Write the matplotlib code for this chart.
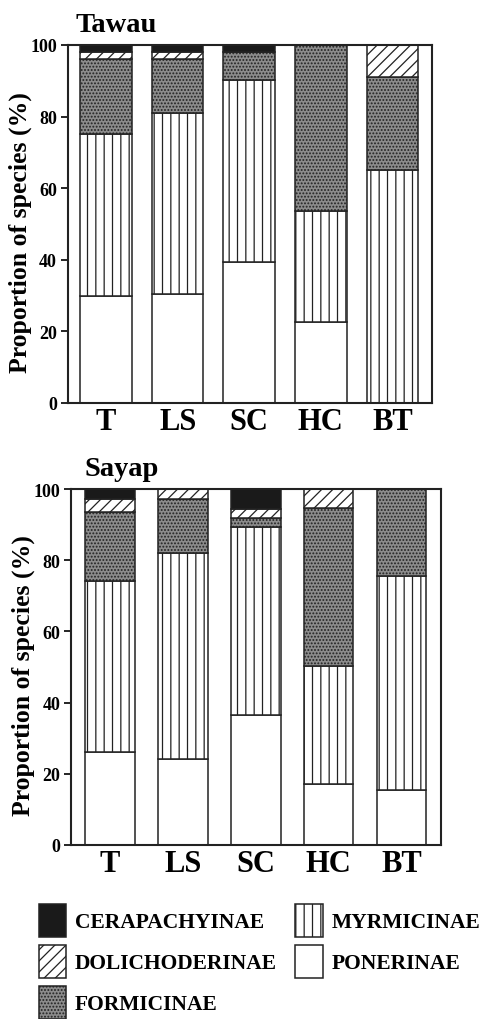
import numpy as np
import matplotlib
matplotlib.use("Agg")
import matplotlib.pyplot as plt

plt.rcParams['font.family'] = ['Liberation Serif', 'DejaVu Serif']
plt.rcParams['font.weight'] = 'bold'
plt.rcParams['hatch.linewidth'] = 0.9

sites = ["T", "LS", "SC", "HC", "BT"]
subfamilies = ["PONERINAE", "MYRMICINAE", "FORMICINAE", "DOLICHODERINAE", "CERAPACHYINAE"]

# proportion of species (%) per subfamily, order T, LS, SC, HC, BT
tawau_ponerinae = [30, 30.5, 39.5, 22.5, 0]
tawau_myrmicinae = [45, 50.5, 50.8, 31, 65]
tawau_formicinae = [21, 15, 7.8, 46.5, 26]
tawau_dolichoderinae = [2, 2, 0, 0, 9]
tawau_cerapachyinae = [2, 2, 1.9, 0, 0]

sayap_ponerinae = [26, 24.2, 36.5, 17, 15.5]
sayap_myrmicinae = [48.2, 57.8, 52.7, 33.2, 60]
sayap_formicinae = [19.3, 15.2, 2.6, 44.5, 24.5]
sayap_dolichoderinae = [3.8, 2.8, 2.6, 5.3, 0]
sayap_cerapachyinae = [2.7, 0, 5.6, 0, 0]

styles = {
    "PONERINAE": dict(facecolor="white", hatch=None),
    "MYRMICINAE": dict(facecolor="white", hatch="||"),
    "FORMICINAE": dict(facecolor="#8c8c8c", hatch="....."),
    "DOLICHODERINAE": dict(facecolor="white", hatch="///"),
    "CERAPACHYINAE": dict(facecolor="#1a1a1a", hatch=None),
}


def draw_panel(ax, data, width):
    x = np.arange(len(sites))
    bottom = np.zeros(len(sites))
    handles = {}
    for name, vals in zip(subfamilies, data):
        vals = np.array(vals, dtype=float)
        st = styles[name]
        b = ax.bar(x, vals, width, bottom=bottom, facecolor=st["facecolor"],
                   hatch=st["hatch"], edgecolor="#222222", linewidth=1.1)
        handles[name] = b
        bottom += vals
    ax.set_ylim(0, 100)
    ax.set_xlim(-0.53, 4.55)
    ax.set_xticks(x)
    ax.set_xticklabels(sites, fontsize=22, fontweight="bold")
    ax.set_yticks([0, 20, 40, 60, 80, 100])
    ax.tick_params(axis="x", length=0, pad=3)
    ax.tick_params(axis="y", direction="out", length=5, width=1.2, labelsize=13, pad=3)
    for s in ax.spines.values():
        s.set_linewidth(1.5)
        s.set_color("#222222")
    ax.set_ylabel("Proportion of species (%)", fontsize=18.5, fontweight="bold")
    ax.yaxis.set_label_coords(-0.098, 0.48)
    return handles


fig = plt.figure(figsize=(4.83, 10.2), dpi=100)
ax1 = fig.add_axes([0.141, 0.604, 0.753, 0.351])
ax2 = fig.add_axes([0.148, 0.1706, 0.766, 0.349])

h = draw_panel(ax1, [tawau_ponerinae, tawau_myrmicinae, tawau_formicinae,
                     tawau_dolichoderinae, tawau_cerapachyinae], 0.72)
draw_panel(ax2, [sayap_ponerinae, sayap_myrmicinae, sayap_formicinae,
                 sayap_dolichoderinae, sayap_cerapachyinae], 0.68)

fig.text(76 / 483, 1 - 32 / 1020, "Tawau", fontsize=20.5, fontweight="bold")
fig.text(85 / 483, 1 - 476 / 1020, "Sayap", fontsize=20.5, fontweight="bold")

order = ["CERAPACHYINAE", "DOLICHODERINAE", "FORMICINAE", "MYRMICINAE", "PONERINAE"]
fig.legend([h[n] for n in order], order, loc="upper left",
           bbox_to_anchor=(39 / 483, 1 - 905 / 1020), ncol=2, frameon=False,
           fontsize=15.5, handlelength=1.26, handleheight=2.0, handletextpad=0.42,
           columnspacing=0.85, labelspacing=0.35, borderpad=0, borderaxespad=0)

fig.savefig("out.png", dpi=100)
